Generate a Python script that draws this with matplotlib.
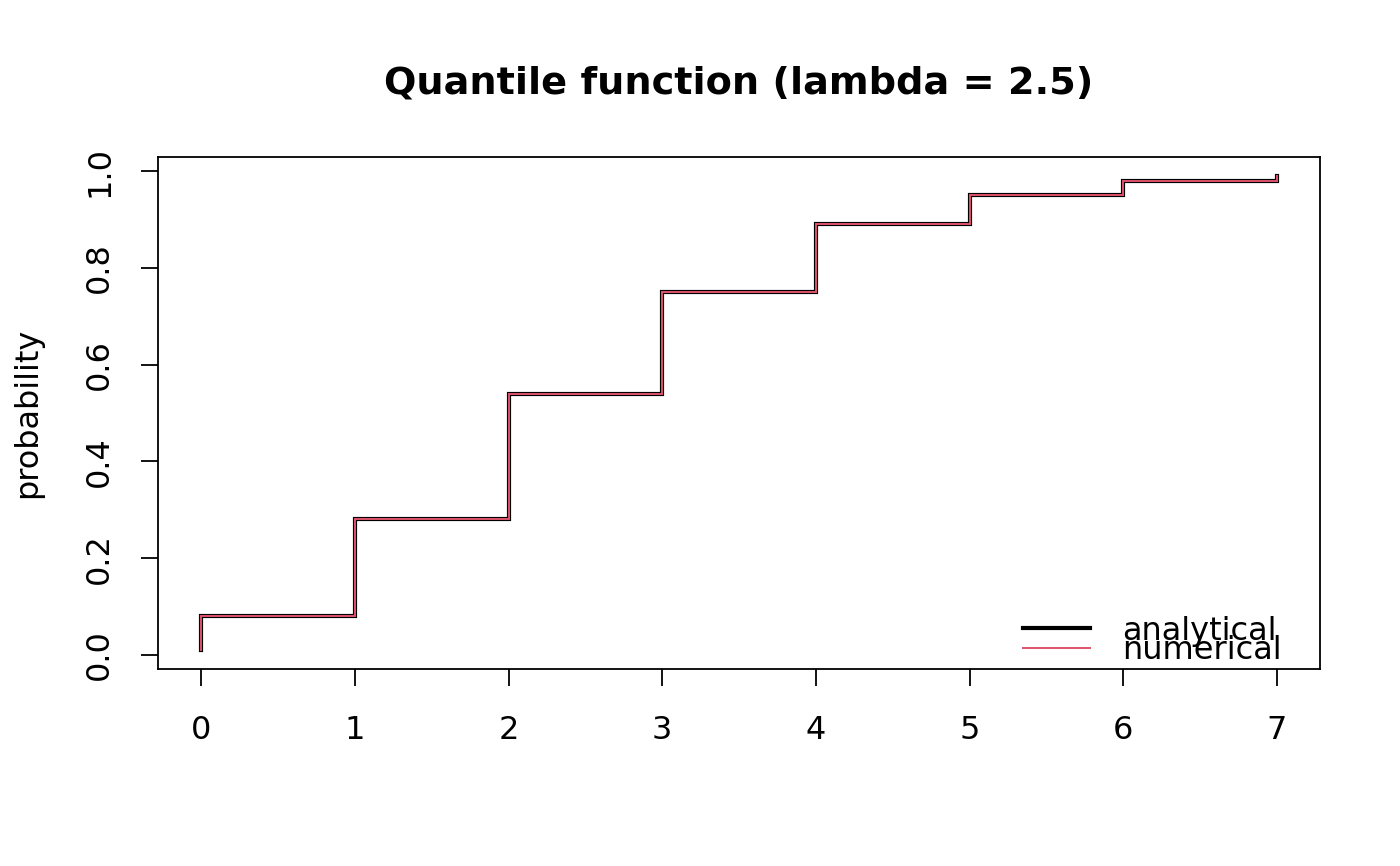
import matplotlib
matplotlib.use('Agg')
import matplotlib.pyplot as plt

# step levels of the quantile plot (x = quantile, y = probability)
quantiles = [0, 0, 1, 2, 3, 4, 5, 6, 7]
probs = [0.01, 0.08, 0.28, 0.54, 0.75, 0.89, 0.95, 0.98, 0.99]
xticks = [0, 1, 2, 3, 4, 5, 6, 7]
yticks = [0.0, 0.2, 0.4, 0.6, 0.8, 1.0]

red = '#DF536B'

fig = plt.figure(figsize=(14, 8.66), dpi=100)
ax = fig.add_axes([0.1129, 0.2275, 0.83, 0.5912])

ax.step(quantiles, probs, where='post', color='black', lw=3.0, label='analytical',
        solid_joinstyle='miter')
ax.step(quantiles, probs, where='post', color=red, lw=1.4, label='numerical',
        solid_joinstyle='miter')

# R style 4% padding
xr = 7 - 0
ax.set_xlim(0 - 0.04 * xr, 7 + 0.04 * xr)
yr = 0.99 - 0.01
ax.set_ylim(0.01 - 0.04 * yr, 0.99 + 0.04 * yr)

ax.set_xticks(xticks)
ax.set_xticklabels([str(x) for x in xticks])
ax.set_yticks(yticks)
ax.set_yticklabels(['%.1f' % y for y in yticks], rotation=90, va='center')
ax.tick_params(axis='both', labelsize=23, length=12, width=1.3, direction='out')
ax.tick_params(axis='x', pad=21)
ax.tick_params(axis='y', pad=19)
for s in ax.spines.values():
    s.set_linewidth(1.3)

ax.set_title('Quantile function (lambda = 2.5)', fontsize=27.5, fontweight='bold', pad=46)
ax.set_ylabel('probability', fontsize=23)
ax.yaxis.set_label_coords(-0.099, 0.5)

leg = ax.legend(loc='lower right', frameon=False, fontsize=23, handlelength=2.1,
                handletextpad=1.0, labelspacing=-0.37, borderaxespad=0.1,
                bbox_to_anchor=(0.981, -0.025))

fig.savefig('out.png', dpi=100)
